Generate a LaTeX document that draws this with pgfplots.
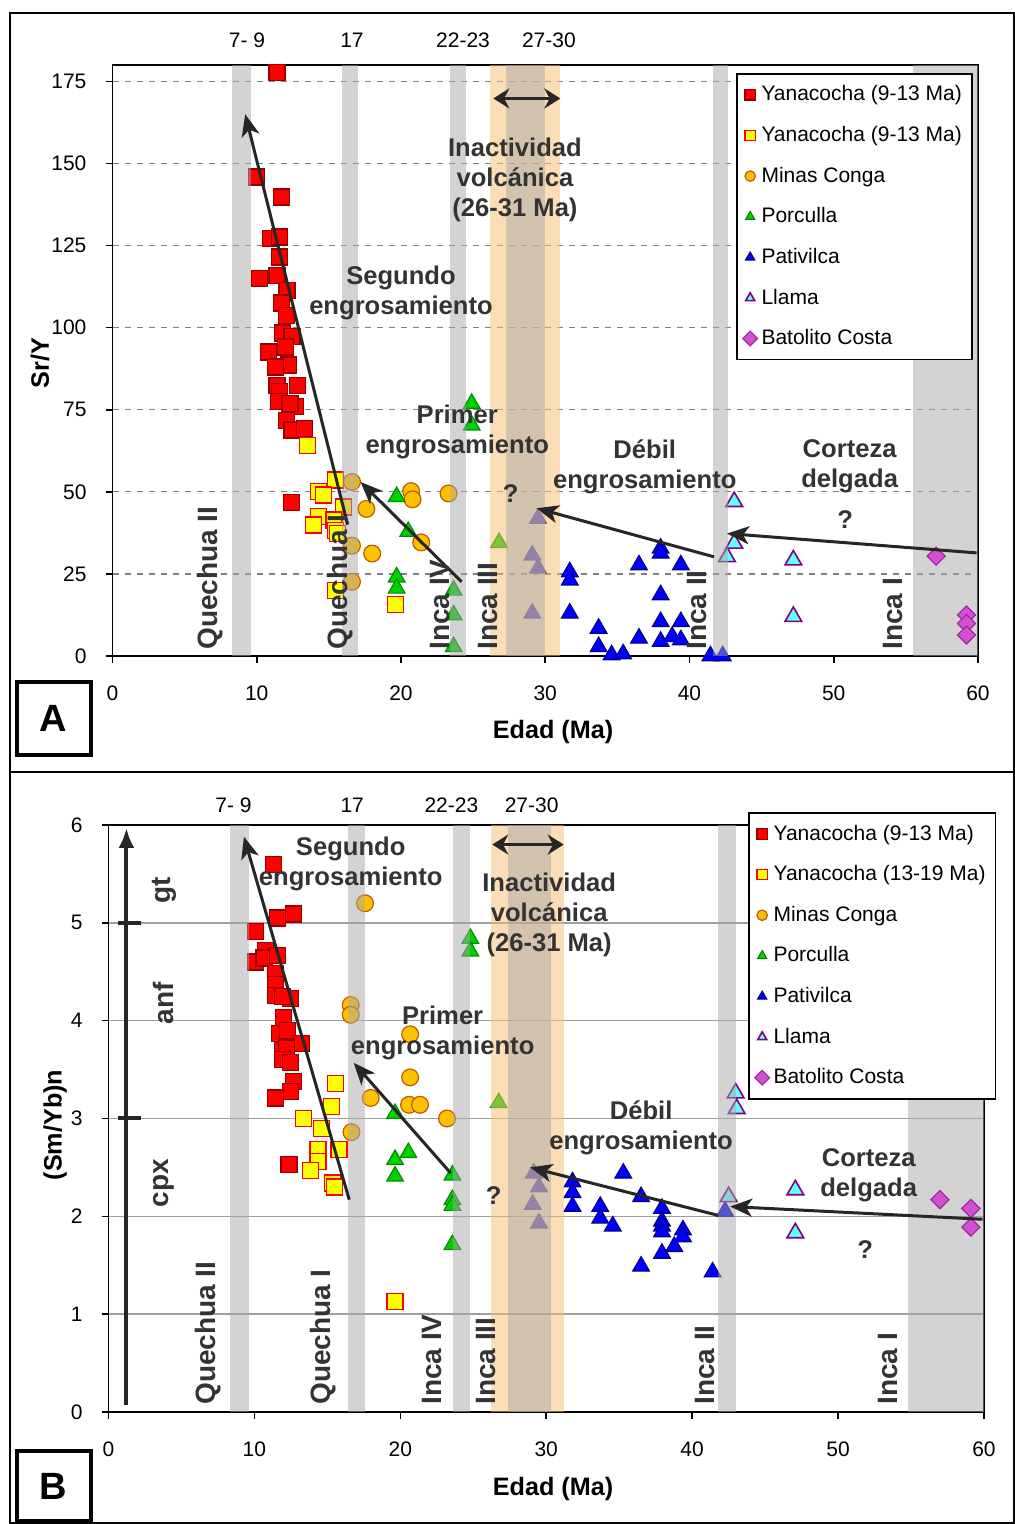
\documentclass[border=0pt]{standalone}
\usepackage{fontspec}
\setmainfont{Liberation Sans}
\usepackage{pgfplots}
\pgfplotsset{compat=1.18}
\usetikzlibrary{arrows.meta}

\definecolor{bandgray}{RGB}{168,168,168}
\definecolor{bandorange}{RGB}{250,190,110}
\definecolor{txt}{RGB}{51,51,51}
\definecolor{arr}{RGB}{38,38,38}
\definecolor{redf}{RGB}{255,0,0}
\definecolor{rede}{RGB}{150,0,0}
\definecolor{yelf}{RGB}{255,255,0}
\definecolor{orf}{RGB}{255,192,0}
\definecolor{ore}{RGB}{190,90,0}
\definecolor{grf}{RGB}{0,210,0}
\definecolor{gre}{RGB}{0,140,0}
\definecolor{blf}{RGB}{0,0,255}
\definecolor{ble}{RGB}{0,0,140}
\definecolor{cyf}{RGB}{100,255,255}
\definecolor{cye}{RGB}{128,0,128}
\definecolor{maf}{RGB}{210,80,210}
\definecolor{mae}{RGB}{160,40,160}

\newcommand\ann{\fontsize{12.8}{15}\selectfont\bfseries}
\newcommand\bl{\fontsize{14}{16}\selectfont\bfseries}
\newcommand\tl{\fontsize{10.5}{12}\selectfont}

\tikzset{band/.style={fill opacity=0.5}}

\pgfplotsset{
  geomA/.style={scale only axis, clip=false, at={(56.25pt,434pt)}, anchor=south west,
    width=432.75pt, height=295.5pt, xmin=0, xmax=60, ymin=0, ymax=180},
  geomB/.style={scale only axis, clip=false, at={(54.25pt,56pt)}, anchor=south west,
    width=437.75pt, height=293.5pt, xmin=0, xmax=60, ymin=0, ymax=6},
  common/.style={
    xtick={0,10,...,60},
    tick label style={font=\tl},
    /pgf/number format/assume math mode=true,
    xticklabel style={yshift=-8pt},
    yticklabel style={xshift=-6pt},
    tick align=outside, major tick length=3.5pt,
    axis line style={line width=0.8pt},
    tick style={black, line width=0.8pt},
    ytick pos=left, xtick pos=bottom,
  },
  leg/.style={hide axis,
    legend cell align=left,
    legend style={font=\tl, draw=black, line width=0.8pt, fill=white,
      row sep=7.2pt, inner xsep=3pt, inner ysep=4pt, anchor=north west},
    legend image post style={mark size=2.6pt},
  },
  sRed/.style={only marks, mark=square*, mark size=4pt, mark options={fill=redf, draw=rede, line width=0.6pt}},
  sYel/.style={only marks, mark=square*, mark size=4pt, mark options={fill=yelf, draw=redf, line width=0.6pt}},
  sOr/.style={only marks, mark=*, mark size=4.2pt, mark options={fill=orf, draw=ore, line width=0.6pt}},
  sGr/.style={only marks, mark=triangle*, mark size=4.8pt, mark options={fill=grf, draw=gre, line width=0.6pt}},
  sBl/.style={only marks, mark=triangle*, mark size=4.8pt, mark options={fill=blf, draw=ble, line width=0.6pt}},
  sCy/.style={only marks, mark=triangle*, mark size=4.8pt, mark options={fill=cyf, draw=cye, line width=0.8pt}},
  sMa/.style={only marks, mark=square*, mark size=3.2pt, mark options={rotate=45, fill=maf, draw=mae, line width=0.6pt}},
}

\begin{document}
\begin{tikzpicture}
\useasboundingbox (0,0) rectangle (507.5pt,762pt);

% ================= Panel A =================
\begin{axis}[geomA, common, ytick={0,25,...,175},
  ymajorgrids, major grid style={dashed, gray, line width=0.6pt}]
\fill[bandgray, band] (axis cs:55.5,0) rectangle (axis cs:60,180);
\addplot[sRed] coordinates {(11.4,177.8) (10.0,145.9) (11.7,139.8) (10.95,127.1) (11.6,127.6) (11.6,121.5) (10.2,115) (11.4,116) (12.1,111.4) (11.7,107.5) (12.05,103.8) (11.76,98.4) (12.45,97.4) (10.8,92.6) (12.0,94.1) (12.2,88.6) (11.3,88) (11.4,82.5) (12.8,82.5) (11.6,80.5) (11.5,77.4) (12.7,75.9) (12.3,76.9) (12.05,71.8) (12.45,68.8) (13.3,69.3) (12.4,46.7)};
\addplot[sYel] coordinates {(13.5,64.2) (15.45,53.6) (14.3,50) (14.65,49) (16.0,45.4) (14.3,42.4) (13.95,39.9) (15.35,41.4) (15.45,38.3) (15.6,37.3) (15.45,20) (19.6,15.7)};
\addplot[sOr] coordinates {(16.6,53) (17.6,44.8) (20.7,50.2) (20.8,47.7) (23.3,49.5) (16.6,33.6) (18,31.2) (21.4,34.6) (16.6,22.6)};
\addplot[sGr] coordinates {(24.9,76.9) (24.9,70.3) (19.7,48.5) (20.5,37.9) (19.7,24) (19.7,20.6) (23.65,20) (23.65,12.5) (23.65,2.8) (26.8,34.5)};
\addplot[sBl] coordinates {(31.7,25.6) (31.7,23.1) (31.7,13) (33.7,8.4) (33.7,2.8) (34.6,0.3) (35.4,0.6) (36.5,27.7) (36.5,5.4) (38,32.8) (38,31.3) (38,18.6) (38,10.4) (38,4.4) (39.4,27.7) (39.4,10.4) (38.8,5.9) (39.4,4.9) (41.45,0) (42.3,0) (29.5,41.9) (29.1,30.7) (29.5,26.7) (29.1,13)};
\addplot[sCy] coordinates {(43.1,47) (43.1,34.3) (42.6,30.2) (47.2,29.2) (47.2,12)};
\addplot[sMa] coordinates {(57.1,30.4) (59.2,12.5) (59.2,9.9) (59.2,6.4)};
\end{axis}
\begin{axis}[geomA, hide axis]
\fill[bandgray, band] (axis cs:8.3,0) rectangle (axis cs:9.6,180);
\fill[bandgray, band] (axis cs:15.9,0) rectangle (axis cs:17.0,180);
\fill[bandgray, band] (axis cs:23.4,0) rectangle (axis cs:24.5,180);
\fill[bandorange, band] (axis cs:26.15,0) rectangle (axis cs:31.0,180);
\fill[bandgray, band] (axis cs:27.3,0) rectangle (axis cs:30.0,180);
\fill[bandgray, band] (axis cs:41.6,0) rectangle (axis cs:42.7,180);
\end{axis}
\begin{axis}[geomA, leg, legend style={at={(0.7204,0.9865)}}]
\addlegendimage{sRed}\addlegendentry{Yanacocha (9-13 Ma)}
\addlegendimage{sYel}\addlegendentry{Yanacocha (9-13 Ma)}
\addlegendimage{sOr}\addlegendentry{Minas Conga}
\addlegendimage{sGr}\addlegendentry{Porculla}
\addlegendimage{sBl}\addlegendentry{Pativilca}
\addlegendimage{sCy}\addlegendentry{Llama}
\addlegendimage{sMa}\addlegendentry{Batolito Costa}
\draw[arr, line width=1.5pt, -{Stealth[length=11pt,width=9pt,inset=3pt]}] (axis cs:16.3,40) -- (axis cs:9.2,165);
\draw[arr, line width=1.5pt, -{Stealth[length=11pt,width=9pt,inset=3pt]}] (axis cs:24.2,22.6) -- (axis cs:17.2,53);
\draw[arr, line width=1.5pt, -{Stealth[length=11pt,width=9pt,inset=3pt]}] (axis cs:41.7,30.2) -- (axis cs:29.4,45);
\draw[arr, line width=1.5pt, -{Stealth[length=11pt,width=9pt,inset=3pt]}] (axis cs:59.9,31.4) -- (axis cs:42.6,37.3);
\draw[arr, line width=1.5pt, {Stealth[length=8pt,width=10pt]}-{Stealth[length=8pt,width=10pt]}] (axis cs:26.4,169.8) -- (axis cs:31.05,169.8);
\node[txt, font=\ann, align=center, inner sep=0] at (axis cs:27.9,145) {Inactividad\\volcánica\\(26-31 Ma)};
\node[txt, font=\ann, align=center, inner sep=0] at (axis cs:20,110.7) {Segundo\\engrosamiento};
\node[txt, font=\ann, align=center, inner sep=0] at (axis cs:23.9,68.2) {Primer\\engrosamiento};
\node[txt, font=\ann, align=center, inner sep=0] at (axis cs:36.9,57.7) {Débil\\engrosamiento};
\node[txt, font=\ann, align=center, inner sep=0] at (axis cs:51.1,57.7) {Corteza\\delgada};
\node[txt, font=\ann, inner sep=0] at (axis cs:27.6,49.6) {?};
\node[txt, font=\ann, inner sep=0] at (axis cs:50.8,41.4) {?};
\node[txt, font=\bl, rotate=90, anchor=west, inner sep=0] at (axis cs:6.8,1.8) {Quechua II};
\node[txt, font=\bl, rotate=90, anchor=west, inner sep=0] at (axis cs:15.8,1.8) {Quechua I};
\node[txt, font=\bl, rotate=90, anchor=west, inner sep=0] at (axis cs:22.7,1.8) {Inca IV};
\node[txt, font=\bl, rotate=90, anchor=west, inner sep=0] at (axis cs:26.0,1.8) {Inca III};
\node[txt, font=\bl, rotate=90, anchor=west, inner sep=0] at (axis cs:40.5,1.8) {Inca II};
\node[txt, font=\bl, rotate=90, anchor=west, inner sep=0] at (axis cs:54.1,1.8) {Inca I};
\node[font=\tl] at (axis cs:9.32,187.5) {7- 9};
\node[font=\tl] at (axis cs:16.6,187.5) {17};
\node[font=\tl] at (axis cs:24.3,187.5) {22-23};
\node[font=\tl] at (axis cs:30.25,187.5) {27-30};
\end{axis}

% ================= Panel B =================
\begin{axis}[geomB, common, ytick={0,...,6},
  ymajorgrids, major grid style={gray!75, line width=0.7pt}]
\fill[bandgray, band] (axis cs:54.8,0) rectangle (axis cs:60,6);
\addplot[sRed] coordinates {(11.3,5.6) (11.57,5.05) (12.67,5.09) (10.08,4.91) (10.77,4.72) (10.08,4.6) (10.65,4.64) (11.57,4.67) (11.45,4.48) (11.45,4.37) (11.45,4.26) (12.48,4.23) (11.9,4.25) (12.0,4.03) (11.7,3.87) (12.25,3.9) (13.2,3.77) (11.9,3.7) (12.2,3.72) (11.9,3.6) (12.48,3.57) (12.7,3.38) (12.48,3.28) (11.45,3.21) (12.37,2.53)};
\addplot[sYel] coordinates {(15.57,3.36) (15.27,3.12) (13.35,3.0) (14.6,2.9) (14.36,2.68) (15.8,2.68) (14.36,2.56) (13.85,2.47) (15.34,2.34) (15.5,2.3) (19.64,1.13)};
\addplot[sOr] coordinates {(17.58,5.2) (16.6,4.16) (16.6,4.06) (20.67,3.86) (20.67,3.42) (17.97,3.21) (20.6,3.14) (21.35,3.14) (23.2,3.0) (16.65,2.86)};
\addplot[sGr] coordinates {(24.8,4.84) (24.8,4.71) (19.64,3.05) (20.55,2.65) (19.64,2.58) (19.64,2.41) (23.57,2.42) (23.57,2.17) (23.57,2.11) (23.57,1.71) (26.74,3.16)};
\addplot[sBl] coordinates {(29.14,2.44) (29.5,2.3) (29.07,2.12) (29.5,1.93) (31.8,2.35) (31.8,2.24) (31.8,2.1) (35.28,2.44) (33.7,2.1) (33.7,1.98) (34.56,1.9) (36.5,2.2) (37.93,2.08) (37.93,1.95) (37.93,1.9) (37.93,1.84) (37.93,1.62) (39.37,1.86) (39.37,1.79) (38.77,1.69) (36.5,1.49) (41.4,1.43) (42.26,2.05)};
\addplot[sCy] coordinates {(42.98,3.26) (43.05,3.1) (42.5,2.2) (47.07,2.27) (47.07,1.83)};
\addplot[sMa] coordinates {(56.98,2.17) (59.1,2.08) (59.1,1.89)};
\end{axis}
\begin{axis}[geomB, hide axis]
\fill[bandgray, band] (axis cs:8.3,0) rectangle (axis cs:9.6,6);
\fill[bandgray, band] (axis cs:16.4,0) rectangle (axis cs:17.6,6);
\fill[bandgray, band] (axis cs:23.6,0) rectangle (axis cs:24.8,6);
\fill[bandorange, band] (axis cs:26.2,0) rectangle (axis cs:31.2,6);
\fill[bandgray, band] (axis cs:27.4,0) rectangle (axis cs:30.3,6);
\fill[bandgray, band] (axis cs:41.75,0) rectangle (axis cs:43.0,6);
\end{axis}
\begin{axis}[geomB, leg, legend style={at={(0.7305,1.022)}}]
\addlegendimage{sRed}\addlegendentry{Yanacocha (9-13 Ma)}
\addlegendimage{sYel}\addlegendentry{Yanacocha (13-19 Ma)}
\addlegendimage{sOr}\addlegendentry{Minas Conga}
\addlegendimage{sGr}\addlegendentry{Porculla}
\addlegendimage{sBl}\addlegendentry{Pativilca}
\addlegendimage{sCy}\addlegendentry{Llama}
\addlegendimage{sMa}\addlegendentry{Batolito Costa}
\draw[arr, line width=2pt, -{Latex[length=10pt,width=8pt]}] (axis cs:1.23,0.07) -- (axis cs:1.23,5.97);
\draw[arr, line width=2pt] (axis cs:0.62,5) -- (axis cs:2.26,5);
\draw[arr, line width=2pt] (axis cs:0.62,3) -- (axis cs:2.26,3);
\node[txt, font=\bl, rotate=90] at (axis cs:3.8,5.33) {gt};
\node[txt, font=\bl, rotate=90] at (axis cs:3.8,4.18) {anf};
\node[txt, font=\bl, rotate=90] at (axis cs:3.8,2.34) {cpx};
\draw[arr, line width=1.5pt, -{Stealth[length=11pt,width=9pt,inset=3pt]}] (axis cs:16.5,2.17) -- (axis cs:9.28,5.88);
\draw[arr, line width=1.5pt, -{Stealth[length=11pt,width=9pt,inset=3pt]}] (axis cs:23.46,2.44) -- (axis cs:16.8,3.57);
\draw[arr, line width=1.5pt, -{Stealth[length=11pt,width=9pt,inset=3pt]}] (axis cs:41.77,2.01) -- (axis cs:28.9,2.5);
\draw[arr, line width=1.5pt, -{Stealth[length=11pt,width=9pt,inset=3pt]}] (axis cs:59.9,1.97) -- (axis cs:42.6,2.1);
\draw[arr, line width=1.5pt, {Stealth[length=8pt,width=10pt]}-{Stealth[length=8pt,width=10pt]}] (axis cs:26.3,5.8) -- (axis cs:31.2,5.8);
\node[txt, font=\ann, align=center, inner sep=0] at (axis cs:30.2,5.08) {Inactividad\\volcánica\\(26-31 Ma)};
\node[txt, font=\ann, align=center, inner sep=0] at (axis cs:16.6,5.6) {Segundo\\engrosamiento};
\node[txt, font=\ann, align=center, inner sep=0] at (axis cs:22.9,3.87) {Primer\\engrosamiento};
\node[txt, font=\ann, align=center, inner sep=0] at (axis cs:36.5,2.9) {Débil\\engrosamiento};
\node[txt, font=\ann, align=center, inner sep=0] at (axis cs:52.1,2.42) {Corteza\\delgada};
\node[txt, font=\ann, inner sep=0] at (axis cs:26.4,2.21) {?};
\node[txt, font=\ann, inner sep=0] at (axis cs:51.85,1.66) {?};
\node[txt, font=\bl, rotate=90, anchor=west, inner sep=0] at (axis cs:6.8,0.07) {Quechua II};
\node[txt, font=\bl, rotate=90, anchor=west, inner sep=0] at (axis cs:14.7,0.07) {Quechua I};
\node[txt, font=\bl, rotate=90, anchor=west, inner sep=0] at (axis cs:22.2,0.07) {Inca IV};
\node[txt, font=\bl, rotate=90, anchor=west, inner sep=0] at (axis cs:25.9,0.07) {Inca III};
\node[txt, font=\bl, rotate=90, anchor=west, inner sep=0] at (axis cs:40.9,0.07) {Inca II};
\node[txt, font=\bl, rotate=90, anchor=west, inner sep=0] at (axis cs:53.4,0.07) {Inca I};
\node[font=\tl] at (axis cs:8.57,6.2) {7- 9};
\node[font=\tl] at (axis cs:16.7,6.2) {17};
\node[font=\tl] at (axis cs:23.5,6.2) {22-23};
\node[font=\tl] at (axis cs:29.0,6.2) {27-30};
\end{axis}

% ================= frames and labels (pixel coordinates) =================
\begin{scope}[x=0.5pt, y=-0.5pt, yshift=762pt]
\draw[line width=1pt] (9.5,13) rectangle (1014,1523);
\draw[line width=1pt] (9.5,772.5) -- (1014,772.5);
\draw[line width=2pt, fill=white] (16.5,682) rectangle (90.5,755);
\draw[line width=2pt, fill=white] (16.5,1451) rectangle (90.5,1521);
\node[font=\fontsize{19}{20}\selectfont\bfseries] at (53.5,718.5) {A};
\node[font=\fontsize{19}{20}\selectfont\bfseries] at (53.5,1486) {B};
\node[font=\fontsize{12.6}{14}\selectfont\bfseries] at (553,732) {Edad (Ma)};
\node[font=\fontsize{12.6}{14}\selectfont\bfseries] at (553,1489) {Edad (Ma)};
\node[font=\fontsize{12.6}{14}\selectfont\bfseries, rotate=90] at (40,363) {Sr/Y};
\node[font=\fontsize{12.6}{14}\selectfont\bfseries, rotate=90] at (55,1125) {(Sm/Yb)n};
\end{scope}
\end{tikzpicture}
\end{document}
